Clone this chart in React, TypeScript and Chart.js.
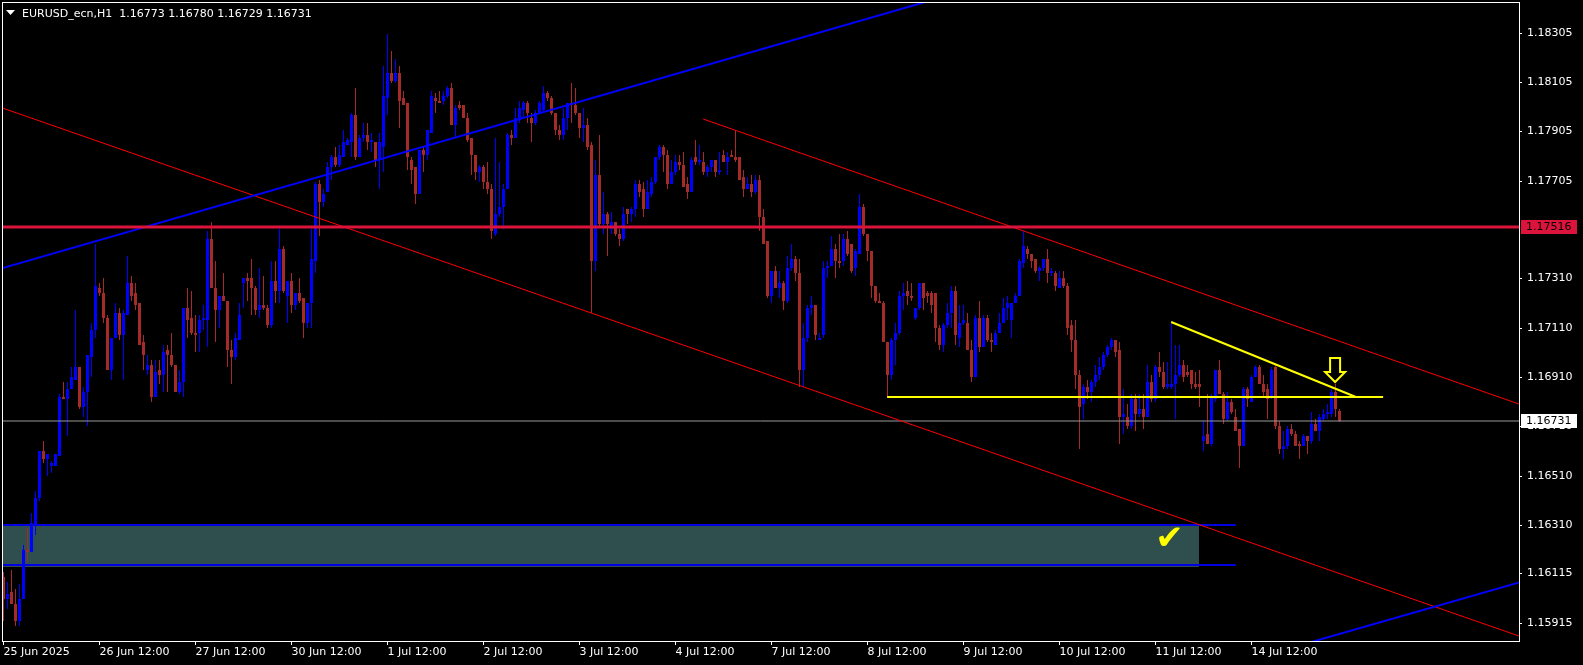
import React, { useEffect, useRef } from 'react';
import { Chart, registerables } from 'chart.js';

Chart.register(...registerables);

const FONT = '"DejaVu Sans", Verdana, sans-serif';

const symbolName = 'EURUSD_ecn,H1';

const opens = [
  1.1610,1.1601,1.1604,1.1599,1.1592,1.1601,1.1621,1.1620,1.1631,1.1642,
  1.1661,1.1658,1.1655,1.1655,1.1659,1.1683,1.1682,1.1686,1.1690,1.1695,
  1.1679,1.1685,1.1699,1.1710,1.1727,1.1725,1.1715,1.1694,1.1707,1.1717,
  1.1708,1.1716,1.1729,1.1725,1.1721,1.1705,1.1694,1.1696,1.1683,1.1694,
  1.1692,1.1702,1.1700,1.1696,1.1685,1.1689,1.1719,1.1715,1.1709,1.1709,
  1.1714,1.1714,1.1747,1.1727,1.1718,1.1724,1.1722,1.1702,1.1699,1.1706,
  1.1729,1.1731,1.1731,1.1727,1.1718,1.1720,1.1719,1.1712,1.1730,1.1726,
  1.1743,1.1724,1.1730,1.1720,1.1725,1.1723,1.1713,1.1721,1.1738,1.1769,
  1.1762,1.1766,1.1776,1.1780,1.1777,1.1780,1.1785,1.1786,1.1797,1.1780,
  1.1788,1.1789,1.1786,1.1786,1.1779,1.1784,1.1804,1.1814,1.1811,1.1814,
  1.1804,1.1802,1.1779,1.1776,1.1765,1.1783,1.1781,1.1790,1.1804,1.1803,
  1.1803,1.1805,1.1808,1.1793,1.1801,1.1801,1.1796,1.1788,1.1781,1.1774,
  1.1776,1.1770,1.1767,1.1749,1.1757,1.1760,1.1767,1.1789,1.1788,1.1796,
  1.1799,1.1802,1.1796,1.1794,1.1798,1.1799,1.1806,1.1804,1.1798,1.1791,
  1.1789,1.1796,1.1802,1.1801,1.1798,1.1792,1.1793,1.1785,1.1738,1.1773,
  1.1753,1.1757,1.1751,1.1754,1.1749,1.1747,1.1759,1.1757,1.1759,1.1769,
  1.1767,1.1759,1.1765,1.1770,1.1780,1.1784,1.1781,1.1769,1.1774,1.1778,
  1.1777,1.1769,1.1766,1.1780,1.1778,1.1778,1.1774,1.1776,1.1779,1.1774,
  1.1781,1.1778,1.1781,1.1780,1.1780,1.1772,1.1767,1.1769,1.1766,1.1771,
  1.1756,1.1746,1.1724,1.1734,1.1727,1.1729,1.1722,1.1735,1.1739,1.1733,
  1.1694,1.1707,1.1719,1.1720,1.1706,1.1708,1.1735,1.1736,1.1743,1.1738,
  1.1738,1.1747,1.1745,1.1735,1.1741,1.1760,1.1749,1.1742,1.1728,1.1722,
  1.1721,1.1705,1.1692,1.1706,1.1709,1.1724,1.1726,1.1724,1.1715,1.1719,
  1.1729,1.1725,1.1725,1.1725,1.1711,1.1704,1.1712,1.1717,1.1726,1.1707,
  1.1713,1.1713,1.1702,1.1691,1.1715,1.1703,1.1715,1.1706,1.1704,1.1709,
  1.1713,1.1719,1.1714,1.1721,1.1724,1.1737,1.1743,1.1741,1.1739,1.1734,
  1.1735,1.1739,1.1733,1.1733,1.1727,1.1731,1.1728,1.1712,1.1706,1.1692,
  1.1680,1.1687,1.1685,1.1689,1.1692,1.1695,1.1700,1.1703,1.1706,1.1702,
  1.1675,1.1675,1.1671,1.1682,1.1676,1.1678,1.1675,1.1689,1.1682,1.1695,
  1.1693,1.1687,1.1687,1.1688,1.1692,1.1696,1.1693,1.1694,1.1688,1.1688,
  1.1665,1.1668,1.1664,1.1682,1.1694,1.1684,1.1674,1.1681,1.1675,1.1670,
  1.1663,1.1686,1.1681,1.1691,1.1695,1.1688,1.1686,1.1683,1.1695,1.1671,
  1.1662,1.1663,1.1670,1.1668,1.1664,1.1663,1.1667,1.1665,1.1672,1.1669,
  1.1674,1.1676,1.1676,1.1685,1.16773,
];

const highs = [
  1.1612,1.1608,1.1613,1.1605,1.1607,1.1623,1.1630,1.1636,1.1645,1.1661,
  1.1665,1.1660,1.1657,1.1660,1.1684,1.1689,1.1689,1.1695,1.1718,1.1695,
  1.1687,1.1700,1.1713,1.1745,1.1729,1.1731,1.1716,1.1707,1.1721,1.1719,
  1.1718,1.1740,1.1732,1.1729,1.1721,1.1708,1.1700,1.1698,1.1698,1.1698,
  1.1704,1.1704,1.1709,1.1696,1.1694,1.1719,1.1727,1.1726,1.1716,1.1716,
  1.1720,1.1750,1.1754,1.1738,1.1724,1.1733,1.1722,1.1706,1.1709,1.1721,
  1.1731,1.1733,1.1739,1.1728,1.1735,1.1732,1.1720,1.1738,1.1738,1.1751,
  1.1744,1.1730,1.1733,1.1725,1.1731,1.1723,1.1721,1.1751,1.1770,1.1771,
  1.1767,1.1778,1.1781,1.1784,1.1785,1.1791,1.1788,1.1798,1.1808,1.1789,
  1.1794,1.1794,1.1790,1.1786,1.1790,1.1817,1.1830,1.1823,1.1820,1.1817,
  1.1807,1.1802,1.1780,1.1776,1.1783,1.1784,1.1791,1.1807,1.1806,1.1807,
  1.1807,1.1809,1.1810,1.1801,1.1803,1.1801,1.1798,1.1788,1.1781,1.1777,
  1.1777,1.1778,1.1769,1.1788,1.1778,1.1769,1.1790,1.1791,1.1800,1.1803,
  1.1803,1.1803,1.1798,1.1799,1.1803,1.1809,1.1807,1.1805,1.1798,1.1793,
  1.1800,1.1802,1.1810,1.1808,1.1798,1.1800,1.1796,1.1786,1.1779,1.1789,
  1.1766,1.1758,1.1758,1.1754,1.1751,1.1760,1.1759,1.1760,1.1771,1.1771,
  1.1770,1.1771,1.1772,1.1780,1.1785,1.1785,1.1783,1.1779,1.1781,1.1781,
  1.1782,1.1772,1.1780,1.1787,1.1785,1.1782,1.1777,1.1779,1.1779,1.1782,
  1.1783,1.1782,1.1783,1.1791,1.1780,1.1775,1.1772,1.1773,1.1773,1.1773,
  1.1759,1.1746,1.1734,1.1736,1.1734,1.1730,1.1740,1.1745,1.1740,1.1739,
  1.1713,1.1720,1.1724,1.1720,1.1709,1.1738,1.1738,1.1748,1.1745,1.1749,
  1.1749,1.1750,1.1745,1.1743,1.1765,1.1761,1.1749,1.1742,1.1728,1.1725,
  1.1722,1.1705,1.1707,1.1713,1.1726,1.1729,1.1730,1.1729,1.1719,1.1729,
  1.1729,1.1726,1.1726,1.1725,1.1712,1.1713,1.1721,1.1728,1.1728,1.1720,
  1.1720,1.1717,1.1706,1.1716,1.1722,1.1716,1.1716,1.1709,1.1710,1.1717,
  1.1723,1.1724,1.1721,1.1725,1.1739,1.1750,1.1744,1.1741,1.1739,1.1736,
  1.1739,1.1743,1.1735,1.1734,1.1734,1.1734,1.1729,1.1714,1.1714,1.1694,
  1.1688,1.1690,1.1690,1.1696,1.1699,1.1701,1.1704,1.1707,1.1706,1.1705,
  1.1686,1.1680,1.1684,1.1684,1.1684,1.1684,1.1696,1.1692,1.1696,1.1701,
  1.1697,1.1697,1.1713,1.1704,1.1704,1.1698,1.1696,1.1694,1.1693,1.1694,
  1.1673,1.1684,1.1684,1.1694,1.1698,1.1685,1.1685,1.1682,1.1678,1.1670,
  1.1687,1.1687,1.1692,1.1696,1.1696,1.1692,1.1688,1.1695,1.1696,1.1673,
  1.1669,1.1671,1.1672,1.1669,1.1665,1.1668,1.1667,1.1677,1.1674,1.1676,
  1.1678,1.1680,1.1686,1.1688,1.16780,
];

const lows = [
  1.1592,1.1597,1.1599,1.1590,1.1590,1.1601,1.1616,1.1620,1.1627,1.1641,
  1.1656,1.1651,1.1652,1.1655,1.1659,1.1682,1.1667,1.1686,1.1690,1.1678,
  1.1675,1.1671,1.1691,1.1707,1.1724,1.1713,1.1694,1.1690,1.1707,1.1706,
  1.1690,1.1716,1.1722,1.1718,1.1704,1.1694,1.1692,1.1681,1.1683,1.1688,
  1.1685,1.1685,1.1695,1.1685,1.1684,1.1683,1.1707,1.1708,1.1701,1.1701,
  1.1710,1.1703,1.1727,1.1705,1.1711,1.1722,1.1695,1.1688,1.1698,1.1706,
  1.1719,1.1722,1.1716,1.1716,1.1715,1.1718,1.1711,1.1711,1.1721,1.1721,
  1.1725,1.1713,1.1717,1.1718,1.1721,1.1707,1.1711,1.1711,1.1733,1.1748,
  1.1760,1.1766,1.1771,1.1776,1.1776,1.1780,1.1785,1.1780,1.1779,1.1780,
  1.1786,1.1783,1.1782,1.1776,1.1767,1.1774,1.1797,1.1810,1.1810,1.1792,
  1.1801,1.1775,1.1769,1.1761,1.1765,1.1774,1.1779,1.1790,1.1798,1.1802,
  1.1801,1.1804,1.1793,1.1788,1.1799,1.1796,1.1786,1.1773,1.1771,1.1770,
  1.1767,1.1765,1.1747,1.1748,1.1756,1.1751,1.1767,1.1785,1.1788,1.1794,
  1.1796,1.1794,1.1786,1.1793,1.1798,1.1798,1.1803,1.1797,1.1789,1.1787,
  1.1787,1.1791,1.1794,1.1797,1.1788,1.1786,1.1783,1.1717,1.1734,1.1752,
  1.1749,1.1740,1.1749,1.1748,1.1744,1.1746,1.1753,1.1754,1.1756,1.1764,
  1.1756,1.1759,1.1764,1.1769,1.1779,1.1774,1.1767,1.1769,1.1773,1.1775,
  1.1768,1.1763,1.1766,1.1777,1.1777,1.1773,1.1772,1.1774,1.1772,1.1773,
  1.1778,1.1773,1.1780,1.1778,1.1771,1.1764,1.1767,1.1764,1.1765,1.1750,
  1.1745,1.1723,1.1721,1.1727,1.1723,1.1718,1.1721,1.1734,1.1730,1.1687,
  1.1687,1.1705,1.1716,1.1706,1.1706,1.1707,1.1731,1.1736,1.1731,1.1735,
  1.1736,1.1740,1.1733,1.1732,1.1741,1.1748,1.1738,1.1723,1.1721,1.1721,
  1.1705,1.1683,1.1690,1.1696,1.1708,1.1718,1.1720,1.1722,1.1714,1.1718,
  1.1718,1.1721,1.1717,1.1705,1.1702,1.1701,1.1711,1.1711,1.1704,1.1703,
  1.1712,1.1702,1.1689,1.1691,1.1701,1.1703,1.1705,1.1701,1.1704,1.1709,
  1.1713,1.1714,1.1707,1.1721,1.1724,1.1735,1.1739,1.1735,1.1733,1.1730,
  1.1734,1.1729,1.1732,1.1726,1.1727,1.1727,1.1708,1.1701,1.1686,1.1662,
  1.1674,1.1682,1.1681,1.1687,1.1690,1.1694,1.1699,1.1702,1.1699,1.1664,
  1.1668,1.1670,1.1670,1.1669,1.1675,1.1670,1.1675,1.1681,1.1681,1.1691,
  1.1686,1.1686,1.1686,1.1674,1.1691,1.1689,1.1691,1.1686,1.1686,1.1679,
  1.1661,1.1664,1.1663,1.1681,1.1684,1.1672,1.1673,1.1676,1.1669,1.1654,
  1.1663,1.1679,1.1681,1.1691,1.1688,1.1683,1.1674,1.1682,1.1670,1.1660,
  1.1658,1.1662,1.1667,1.1663,1.1658,1.1663,1.1660,1.1664,1.1669,1.1665,
  1.1673,1.1674,1.1675,1.1675,1.16729,
];

const closes = [
  1.1601,1.1603,1.1599,1.1592,1.1601,1.1621,1.1620,1.1632,1.1642,1.1661,
  1.1658,1.1660,1.1656,1.1660,1.1683,1.1682,1.1686,1.1691,1.1695,1.1679,
  1.1685,1.1700,1.1710,1.1728,1.1725,1.1715,1.1694,1.1707,1.1717,1.1708,
  1.1717,1.1729,1.1724,1.1720,1.1704,1.1700,1.1696,1.1683,1.1693,1.1692,
  1.1701,1.1700,1.1696,1.1685,1.1689,1.1719,1.1714,1.1709,1.1708,1.1714,
  1.1715,1.1747,1.1727,1.1718,1.1724,1.1722,1.1702,1.1699,1.1707,1.1716,
  1.1731,1.1730,1.1727,1.1718,1.1720,1.1719,1.1712,1.1730,1.1726,1.1743,
  1.1726,1.1730,1.1720,1.1725,1.1722,1.1713,1.1721,1.1739,1.1769,1.1762,
  1.1765,1.1776,1.1780,1.1777,1.1781,1.1786,1.1787,1.1797,1.1780,1.1788,
  1.1789,1.1786,1.1787,1.1779,1.1786,1.1805,1.1814,1.1811,1.1814,1.1803,
  1.1801,1.1780,1.1775,1.1765,1.1783,1.1781,1.1791,1.1805,1.1803,1.1802,
  1.1805,1.1808,1.1793,1.1800,1.1800,1.1796,1.1787,1.1781,1.1774,1.1776,
  1.1770,1.1767,1.1750,1.1757,1.1760,1.1767,1.1789,1.1788,1.1796,1.1800,
  1.1802,1.1798,1.1794,1.1798,1.1802,1.1806,1.1804,1.1798,1.1791,1.1789,
  1.1796,1.1802,1.1801,1.1798,1.1792,1.1793,1.1784,1.1738,1.1773,1.1753,
  1.1757,1.1753,1.1754,1.1749,1.1747,1.1757,1.1757,1.1759,1.1769,1.1766,
  1.1759,1.1766,1.1770,1.1780,1.1784,1.1781,1.1769,1.1774,1.1778,1.1777,
  1.1768,1.1766,1.1779,1.1778,1.1779,1.1774,1.1776,1.1779,1.1774,1.1775,
  1.1778,1.1780,1.1780,1.1779,1.1771,1.1767,1.1769,1.1766,1.1771,1.1756,
  1.1745,1.1724,1.1734,1.1727,1.1729,1.1722,1.1735,1.1739,1.1733,1.1694,
  1.1707,1.1719,1.1720,1.1708,1.1707,1.1735,1.1736,1.1743,1.1738,1.1737,
  1.1747,1.1741,1.1734,1.1742,1.1760,1.1749,1.1742,1.1728,1.1722,1.1721,
  1.1705,1.1692,1.1706,1.1709,1.1724,1.1725,1.1724,1.1723,1.1719,1.1729,
  1.1723,1.1724,1.1720,1.1711,1.1704,1.1712,1.1717,1.1726,1.1708,1.1713,
  1.1714,1.1702,1.1691,1.1715,1.1703,1.1715,1.1706,1.1705,1.1709,1.1713,
  1.1719,1.1721,1.1721,1.1724,1.1738,1.1744,1.1741,1.1738,1.1734,1.1735,
  1.1739,1.1733,1.1734,1.1728,1.1731,1.1728,1.1711,1.1706,1.1692,1.1679,
  1.1687,1.1685,1.1689,1.1692,1.1695,1.1700,1.1703,1.1706,1.1701,1.1675,
  1.1676,1.1671,1.1682,1.1676,1.1678,1.1675,1.1689,1.1682,1.1695,1.1693,
  1.1687,1.1688,1.1688,1.1692,1.1696,1.1691,1.1692,1.1688,1.1687,1.1687,
  1.1667,1.1664,1.1683,1.1694,1.1684,1.1674,1.1681,1.1677,1.1669,1.1663,
  1.1686,1.1682,1.1691,1.1695,1.1688,1.1685,1.1682,1.1694,1.1671,1.1662,
  1.1663,1.1670,1.1668,1.1663,1.1663,1.1667,1.1665,1.1672,1.1669,1.1675,
  1.1676,1.1677,1.1685,1.1678,1.16731,
];

const timeTickIndices = [0, 24, 48, 72, 96, 120, 144, 168, 192, 216, 240, 264, 288, 312];
const timeTickLabels = [
  '25 Jun 2025', '26 Jun 12:00', '27 Jun 12:00', '30 Jun 12:00', '1 Jul 12:00',
  '2 Jul 12:00', '3 Jul 12:00', '4 Jul 12:00', '7 Jul 12:00', '8 Jul 12:00',
  '9 Jul 12:00', '10 Jul 12:00', '11 Jul 12:00', '14 Jul 12:00',
];
const priceTicks = [1.18305, 1.18105, 1.17905, 1.17705, 1.1731, 1.1711, 1.1691, 1.1671, 1.1651, 1.1631, 1.16115, 1.15915];

const priceMin = 1.15841;
const priceMax = 1.18429;
const barMin = -0.375;
const barMax = 378.875;

const resistanceLevel = 1.17516;
const bidLevel = 1.16731;

// trend objects: [bar index, price] anchors
const upperBlueLine = [[-1, 1.17346], [240, 1.18473]];
const lowerBlueLine = [[320, 1.15805], [381, 1.1609]];
const redChannelLow = [[-1, 1.18005], [381, 1.15849]];
const redChannelHigh = [[174.9, 1.17954], [381, 1.16789]];
const yellowTrend = [[291.9, 1.17134], [338.1, 1.1683]];
const yellowNeckline = [[220.9, 1.1683], [344.9, 1.1683]];
const zoneFillRange = [-2, 298.9];
const zoneEdgeRange = [-2, 308.1];
const zoneTop = 1.1631;
const zoneBottom = 1.16142;
const zoneEdgeBottom = 1.16148;
const arrowAnchor = [332.9, 1.1689];
const checkAnchor = [291.5, 1.1625];

const BULL = '#0000ff';
const BEAR = '#a52a2a';

const toPts = (pts: number[][]) => pts.map(([x, y]) => ({ x, y }));

const lineDs = (pts: number[][], color: string, width: number, order: number) => ({
  type: 'line' as const,
  data: toPts(pts),
  borderColor: color,
  borderWidth: width,
  pointRadius: 0,
  tension: 0,
  fill: false,
  clip: 0,
  order,
});

const overlayPlugin = {
  id: 'mt4overlay',
  afterDraw(chart: any) {
    const { ctx, chartArea, scales } = chart;
    const xs = scales.x;
    const ys = scales.y;
    ctx.save();

    // arrow (down)
    const tx = xs.getPixelForValue(arrowAnchor[0]);
    const ty = ys.getPixelForValue(arrowAnchor[1]);
    ctx.beginPath();
    ctx.moveTo(tx - 5, ty - 24);
    ctx.lineTo(tx + 5, ty - 24);
    ctx.lineTo(tx + 5, ty - 10);
    ctx.lineTo(tx + 10, ty - 10);
    ctx.lineTo(tx, ty);
    ctx.lineTo(tx - 10, ty - 10);
    ctx.lineTo(tx - 5, ty - 10);
    ctx.closePath();
    ctx.strokeStyle = '#ffff00';
    ctx.lineWidth = 2;
    ctx.stroke();

    // check mark
    const cx = xs.getPixelForValue(checkAnchor[0]);
    const cy = ys.getPixelForValue(checkAnchor[1]);
    ctx.font = `bold 34px ${FONT}`;
    ctx.textAlign = 'center';
    ctx.textBaseline = 'middle';
    ctx.fillStyle = '#ffff00';
    ctx.fillText('\u2714', cx, cy);

    // frame
    ctx.strokeStyle = '#ffffff';
    ctx.lineWidth = 1;
    ctx.strokeRect(chartArea.left + 0.5, chartArea.top + 0.5, chartArea.right - chartArea.left, chartArea.bottom - chartArea.top);

    // price tags on axis
    const tag = (price: number, bg: string, fg: string) => {
      const py = Math.round(ys.getPixelForValue(price));
      ctx.fillStyle = bg;
      ctx.fillRect(chartArea.right + 2, py - 7, 56, 14);
      ctx.fillStyle = fg;
      ctx.font = `11px ${FONT}`;
      ctx.textAlign = 'left';
      ctx.textBaseline = 'middle';
      ctx.fillText(price.toFixed(5), chartArea.right + 7, py + 0.5);
    };
    tag(resistanceLevel, '#dc143c', '#000000');
    tag(bidLevel, '#ffffff', '#000000');

    // title
    const last = opens.length - 1;
    ctx.fillStyle = '#ffffff';
    ctx.beginPath();
    ctx.moveTo(6, 10);
    ctx.lineTo(15, 10);
    ctx.lineTo(10.5, 15);
    ctx.closePath();
    ctx.fill();
    ctx.font = `11px ${FONT}`;
    ctx.textAlign = 'left';
    ctx.textBaseline = 'alphabetic';
    const title = `${symbolName}  ${opens[last].toFixed(5)} ${highs[last].toFixed(5)} ${lows[last].toFixed(5)} ${closes[last].toFixed(5)}`;
    ctx.fillText(title, 22, 17);
    ctx.restore();
  },
};

const zeroPadding = (s: any) => {
  s.paddingTop = 0;
  s.paddingBottom = 0;
  s.paddingLeft = 0;
  s.paddingRight = 0;
};

export default function App() {
  const ref = useRef<HTMLCanvasElement | null>(null);

  useEffect(() => {
    document.body.style.margin = '0';
    document.body.style.background = '#000000';
    const colors = closes.map((c, i) => (c >= opens[i] ? BULL : BEAR));
    const wickData = opens.map((_, i) => ({ x: i, y: [lows[i], highs[i]] }));
    const bodyData = opens.map((o, i) => ({ x: i, y: [o, closes[i]] }));

    const chart = new Chart(ref.current as HTMLCanvasElement, {
      type: 'bar',
      data: {
        datasets: [
          {
            type: 'line',
            data: toPts([[zoneFillRange[0], zoneTop], [zoneFillRange[1], zoneTop]]),
            borderColor: 'rgba(0,0,0,0)',
            borderWidth: 0,
            backgroundColor: '#2f4f4f',
            pointRadius: 0,
            fill: '+1',
            clip: 0,
            order: 10,
          },
          {
            type: 'line',
            data: toPts([[zoneFillRange[0], zoneBottom], [zoneFillRange[1], zoneBottom]]),
            borderColor: 'rgba(0,0,0,0)',
            borderWidth: 0,
            pointRadius: 0,
            fill: false,
            clip: 0,
            order: 10,
          },
          {
            type: 'bar',
            data: wickData,
            backgroundColor: colors,
            barThickness: 1,
            grouped: false,
            inflateAmount: 0,
            borderWidth: 0,
            minBarLength: 1,
            order: 6,
          },
          {
            type: 'bar',
            data: bodyData,
            backgroundColor: colors,
            barThickness: 3,
            grouped: false,
            inflateAmount: 0,
            borderWidth: 0,
            minBarLength: 1,
            order: 5,
          },
          lineDs([[zoneEdgeRange[0], zoneTop], [zoneEdgeRange[1], zoneTop]], '#0000e0', 2, 3),
          lineDs([[zoneEdgeRange[0], zoneEdgeBottom], [zoneEdgeRange[1], zoneEdgeBottom]], '#0000e0', 2, 3),
          lineDs([[-1, bidLevel], [381, bidLevel]], '#9a9a9a', 1, 2),
          lineDs([[-1, resistanceLevel], [381, resistanceLevel]], '#dc143c', 3, 1),
          lineDs(upperBlueLine, '#0000ff', 2, 1),
          lineDs(lowerBlueLine, '#0000ff', 2, 1),
          lineDs(redChannelLow, '#ff0000', 1, 1),
          lineDs(redChannelHigh, '#ff0000', 1, 1),
          lineDs(yellowNeckline, '#ffff00', 2, 1),
          lineDs(yellowTrend, '#ffff00', 2, 1),
        ] as any,
      },
      options: {
        responsive: false,
        animation: false,
        devicePixelRatio: 1,
        events: [],
        layout: { padding: { left: 2, top: 2, right: 0, bottom: 0 } },
        plugins: {
          legend: { display: false },
          tooltip: { enabled: false },
          title: { display: false },
        },
        scales: {
          x: {
            type: 'linear',
            min: barMin,
            max: barMax,
            offset: false,
            afterBuildTicks: (s: any) => {
              s.ticks = timeTickIndices.map((v) => ({ value: v }));
            },
            afterFit: (s: any) => {
              s.height = 24;
              zeroPadding(s);
            },
            ticks: {
              autoSkip: false,
              maxRotation: 0,
              minRotation: 0,
              align: 'start',
              padding: 1,
              color: '#ffffff',
              font: { family: FONT, size: 11 },
              callback: (v: any) => {
                const k = timeTickIndices.indexOf(Number(v));
                return k >= 0 ? timeTickLabels[k] : '';
              },
            },
            grid: { drawOnChartArea: false, drawTicks: true, tickLength: 4, color: '#ffffff', offset: false },
            border: { display: false },
          },
          y: {
            type: 'linear',
            position: 'right',
            min: priceMin,
            max: priceMax,
            beginAtZero: false,
            alignToPixels: true,
            afterBuildTicks: (s: any) => {
              s.ticks = priceTicks.map((v) => ({ value: v }));
            },
            afterFit: (s: any) => {
              s.width = 64;
              zeroPadding(s);
            },
            ticks: {
              color: '#ffffff',
              padding: 5,
              font: { family: FONT, size: 11 },
              callback: (v: any) => Number(v).toFixed(5),
            },
            grid: { drawOnChartArea: false, drawTicks: true, tickLength: 3, color: '#ffffff' },
            border: { display: false },
          },
        },
      } as any,
      plugins: [overlayPlugin],
    });
    return () => chart.destroy();
  }, []);

  return (
    <div style={{ width: 1583, height: 665, background: '#000000' }}>
      <canvas ref={ref} width={1583} height={665} style={{ display: 'block' }} />
    </div>
  );
}
